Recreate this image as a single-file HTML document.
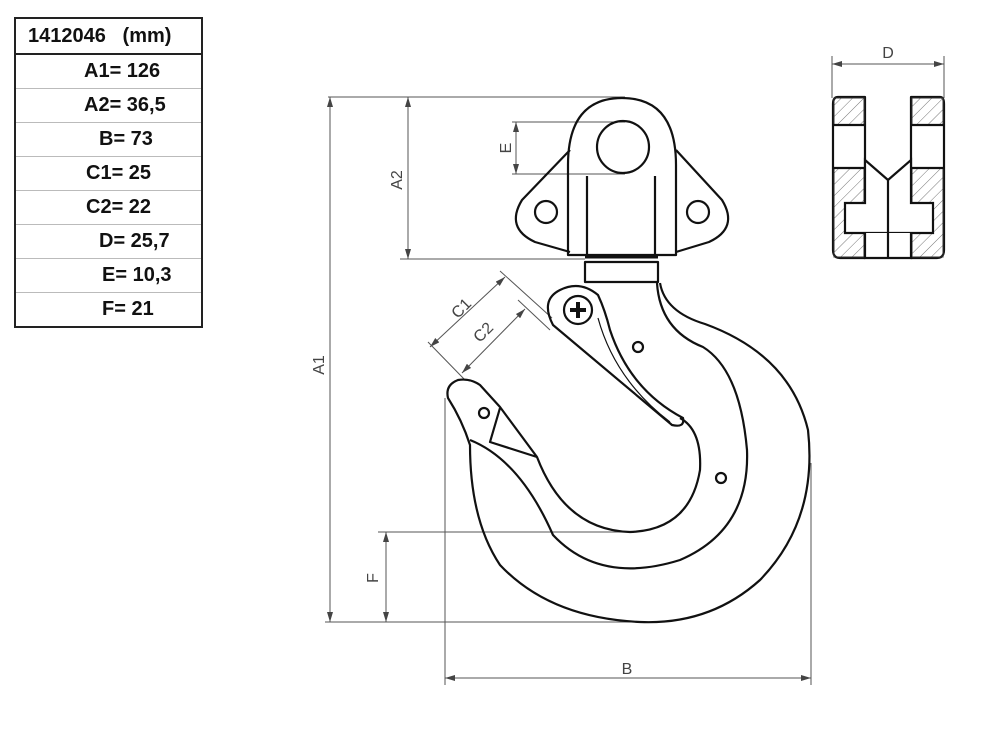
<!DOCTYPE html>
<html><head><meta charset="utf-8"><style>
body{margin:0;background:#fff;width:1000px;height:744px;overflow:hidden;font-family:"Liberation Sans",sans-serif}
table{position:absolute;left:14px;top:17px;border-collapse:collapse;width:189px;border:2px solid #222}
td{height:33px;border-bottom:1px solid #bbb;font-weight:bold;font-size:20px;padding:0;color:#111}
td.h{border-bottom:2px solid #222;padding-left:12px;height:34px}
svg{position:absolute;left:0;top:0}
</style></head><body>
<table>
<tr><td class="h">1412046&nbsp;&nbsp;&nbsp;(mm)</td></tr>
<tr><td style="padding-left:68px">A1= 126</td></tr>
<tr><td style="padding-left:68px">A2= 36,5</td></tr>
<tr><td style="padding-left:83px">B= 73</td></tr>
<tr><td style="padding-left:70px">C1= 25</td></tr>
<tr><td style="padding-left:70px">C2= 22</td></tr>
<tr><td style="padding-left:83px">D= 25,7</td></tr>
<tr><td style="padding-left:86px">E= 10,3</td></tr>
<tr><td style="padding-left:86px;border-bottom:none">F= 21</td></tr>
</table>
<svg width="1000" height="744" viewBox="0 0 1000 744">
<defs>
<pattern id="h" width="8" height="8" patternUnits="userSpaceOnUse" patternTransform="rotate(45)"><line x1="0" y1="0" x2="0" y2="8" stroke="#777" stroke-width="1"/></pattern>
<marker id="a" markerWidth="10" markerHeight="6" refX="10" refY="3" orient="auto-start-reverse"><path d="M0,0 L10,3 L0,6z" fill="#444"/></marker>
</defs>
<g stroke="#555" stroke-width="1" fill="none">
<!-- dims -->
<line x1="328" y1="97" x2="625" y2="97"/>
<line x1="330" y1="97" x2="330" y2="622" marker-start="url(#a)" marker-end="url(#a)"/>
<line x1="325" y1="622" x2="640" y2="622"/>
<line x1="400" y1="259" x2="585" y2="259"/>
<line x1="408" y1="97" x2="408" y2="259" marker-start="url(#a)" marker-end="url(#a)"/>
<line x1="512" y1="122" x2="625" y2="122"/>
<line x1="512" y1="174" x2="625" y2="174"/>
<line x1="516" y1="122" x2="516" y2="174" marker-start="url(#a)" marker-end="url(#a)"/>
<line x1="378" y1="532" x2="630" y2="532"/>
<line x1="386" y1="532" x2="386" y2="622" marker-start="url(#a)" marker-end="url(#a)"/>
<line x1="445" y1="398" x2="445" y2="685"/>
<line x1="811" y1="463" x2="811" y2="685"/>
<line x1="445" y1="678" x2="811" y2="678" marker-start="url(#a)" marker-end="url(#a)"/>
<line x1="430" y1="347" x2="505" y2="277" marker-start="url(#a)" marker-end="url(#a)"/>
<line x1="462" y1="373" x2="525" y2="309" marker-start="url(#a)" marker-end="url(#a)"/>
<line x1="500" y1="271" x2="552" y2="318"/>
<line x1="518" y1="300" x2="550" y2="330"/>
<line x1="428" y1="342" x2="465" y2="380"/>
<line x1="832" y1="56" x2="832" y2="98"/>
<line x1="944" y1="56" x2="944" y2="98"/>
<line x1="832" y1="64" x2="944" y2="64" marker-start="url(#a)" marker-end="url(#a)"/>
</g>
<g font-size="16" fill="#444" font-family="Liberation Sans,sans-serif">
<text x="888" y="58" text-anchor="middle">D</text>
<text x="627" y="674" text-anchor="middle">B</text>
<text transform="translate(324,365) rotate(-90)" text-anchor="middle">A1</text>
<text transform="translate(402,180) rotate(-90)" text-anchor="middle">A2</text>
<text transform="translate(511,148) rotate(-90)" text-anchor="middle">E</text>
<text transform="translate(378,578) rotate(-90)" text-anchor="middle">F</text>
<text transform="translate(465,312) rotate(-45)" text-anchor="middle">C1</text>
<text transform="translate(487,336) rotate(-45)" text-anchor="middle">C2</text>
</g>
<g stroke="#111" stroke-width="2.2" fill="none" stroke-linejoin="round">
<!-- swivel -->
<path d="M568,255 L568,165 Q568,98 622,98 Q676,98 676,165 L676,255 Z"/>
<circle cx="623" cy="147" r="26"/>
<path d="M587,255 V176 M655,255 V176"/>
<path d="M570,150 L522,200 Q505,228 535,242 L570,252"/>
<path d="M676,150 L722,200 Q739,228 709,242 L676,252"/>
<circle cx="546" cy="212" r="11"/><circle cx="698" cy="212" r="11"/>
<rect x="585" y="262" width="73" height="20"/>
<line x1="585" y1="257" x2="658" y2="257" stroke-width="3"/>
<!-- hook -->
<path d="M660,283 Q665,312 705,324 Q790,355 808,430 Q818,520 760,580 Q710,625 640,622 Q550,618 500,565 Q470,520 470,445 Q462,420 448,398 Q445,385 458,380 Q470,378 480,385 L500,407 L537,457 Q565,530 630,532 Q690,530 700,470 Q702,430 680,418"/>
<path d="M657,283 Q660,330 703,347 Q740,370 747,450 Q750,530 680,560 Q600,585 553,535 Q520,460 470,440"/>
<path d="M500,408 L490,442 L537,457"/>
<circle cx="484" cy="413" r="5"/><circle cx="638" cy="347" r="5"/><circle cx="721" cy="478" r="5"/>
<!-- latch -->
<path d="M560,290 Q580,280 598,295 Q605,310 610,330 Q630,390 683,418 Q685,428 672,425 L553,325 Q540,300 560,290 Z"/>
<path d="M598,318 Q615,380 670,422" stroke-width="1.2"/>
<circle cx="578" cy="310" r="14"/>
<path d="M570,310 H586 M578,302 V318" stroke-width="4"/>
<!-- side view -->
<path d="M838,97 H865 V258 H840 Q833,258 833,250 V104 Q833,97 838,97 Z"/>
<path d="M940,97 H911 V258 H937 Q944,258 944,250 V104 Q944,97 940,97 Z"/>
</g>
<g stroke="#333" stroke-width="1">
<rect x="834" y="98" width="30" height="27" fill="url(#h)"/>
<rect x="912" y="98" width="31" height="27" fill="url(#h)"/>
<rect x="834" y="168" width="30" height="89" fill="url(#h)"/>
<rect x="912" y="168" width="31" height="89" fill="url(#h)"/>
</g>
<g stroke="#111" stroke-width="2.2" fill="#fff">
<path d="M865,160 L888,180 L911,160 V203 H933 V233 H845 V203 H865 Z"/>
<path d="M865,233 V258 H911 V233" />
<path d="M833,125 H865 M911,125 H944 M833,168 H865 M911,168 H944 M888,180 V258" fill="none"/>
</g>
</svg>
</body></html>
